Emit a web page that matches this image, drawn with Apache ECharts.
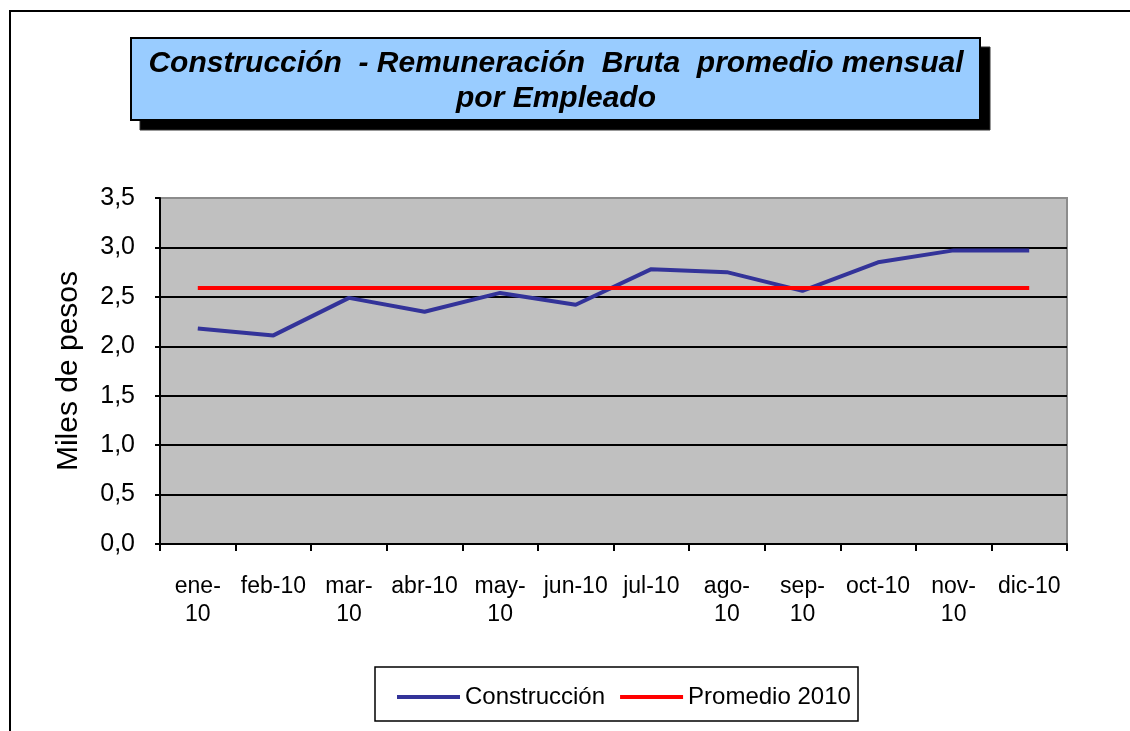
<!DOCTYPE html>
<html lang="es">
<head>
  <meta charset="UTF-8">
  <title>Construcción - Remuneración Bruta</title>
  <style>
    html, body { margin: 0; padding: 0; background: #fff; }
  </style>
</head>
<body>
<div id="main" style="width:1130px; height:731px;"></div>
<script type="text/javascript" src="https://cdn.jsdelivr.net/npm/echarts@6.0.0/dist/echarts.min.js"></script>
<script>
  // data
  var months = ['ene-\n10', 'feb-10', 'mar-\n10', 'abr-10', 'may-\n10', 'jun-10',
                'jul-10', 'ago-\n10', 'sep-\n10', 'oct-10', 'nov-\n10', 'dic-10'];
  var construccion = [2.18, 2.11, 2.49, 2.35, 2.54, 2.42, 2.78, 2.75, 2.56, 2.85, 2.97, 2.97];
  var promedio2010 = [2.59, 2.59, 2.59, 2.59, 2.59, 2.59, 2.59, 2.59, 2.59, 2.59, 2.59, 2.59];
  var titleLines = ['Construcción  - Remuneración  Bruta  promedio mensual', 'por Empleado'];

  var font = 'Arial, "Liberation Sans", sans-serif';
  var myChart = echarts.init(document.getElementById('main'));

  var option = {
    backgroundColor: '#fff',
    animation: false,
    textStyle: { fontFamily: font },
    graphic: [
      // outer chart frame (runs off the page right and bottom)
      { type: 'rect', shape: { x: 10, y: 11, width: 1140, height: 740 },
        style: { fill: 'none', stroke: '#000', lineWidth: 2 } },
      // title box shadow
      { type: 'rect', shape: { x: 140, y: 47, width: 850, height: 83 },
        style: { fill: '#000', stroke: '#333', lineWidth: 1 } },
      // title box
      { type: 'rect', shape: { x: 131, y: 38, width: 849, height: 82 },
        style: { fill: '#99ccff', stroke: '#000', lineWidth: 2 } },
      { type: 'text', x: 556, y: 81,
        style: { text: titleLines.join('\n'), fill: '#000', align: 'center', verticalAlign: 'middle',
                 font: 'italic bold 30px ' + font, lineHeight: 35 } },
      // legend frame
      { type: 'rect', shape: { x: 375, y: 667, width: 483, height: 54 },
        style: { fill: '#fff', stroke: '#000', lineWidth: 1.5 }, z: -1 }
    ],
    legend: {
      top: 680,
      left: 392,
      itemWidth: 63,
      itemHeight: 4,
      itemGap: 15,
      icon: 'rect',
      textStyle: { fontSize: 24, color: '#000' },
      data: ['Construcción', 'Promedio 2010']
    },
    grid: {
      left: 160, right: 63, top: 198, bottom: 187,
      show: true,
      backgroundColor: '#c0c0c0',
      borderColor: '#8c8c8c',
      borderWidth: 2
    },
    xAxis: {
      type: 'category',
      data: months,
      boundaryGap: true,
      axisLine: { lineStyle: { color: '#000', width: 2 } },
      axisTick: { show: true, interval: 0, length: 7, lineStyle: { color: '#000', width: 2 } },
      axisLabel: { interval: 0, color: '#000', fontSize: 23, lineHeight: 28, margin: 29 },
      splitLine: { show: false }
    },
    yAxis: {
      type: 'value',
      min: 0,
      max: 3.5,
      interval: 0.5,
      name: 'Miles de pesos',
      nameLocation: 'middle',
      nameGap: 76,
      nameTextStyle: { fontSize: 30, color: '#000' },
      axisLine: { show: true, lineStyle: { color: '#000', width: 2 } },
      axisTick: { show: true, length: 5, lineStyle: { color: '#000', width: 2 } },
      axisLabel: {
        color: '#000', fontSize: 25, margin: 25,
        formatter: function (v) { return v.toFixed(1).replace('.', ','); }
      },
      splitLine: { show: true, showMaxLine: false, lineStyle: { color: '#000', width: 2 } }
    },
    series: [
      {
        name: 'Construcción',
        type: 'line',
        data: construccion,
        symbol: 'none',
        itemStyle: { color: '#333399' },
        lineStyle: { color: '#333399', width: 4 },
        z: 3
      },
      {
        name: 'Promedio 2010',
        type: 'line',
        data: promedio2010,
        symbol: 'none',
        itemStyle: { color: '#ff0000' },
        lineStyle: { color: '#ff0000', width: 4 },
        z: 4
      }
    ]
  };

  myChart.setOption(option);
</script>
</body>
</html>
